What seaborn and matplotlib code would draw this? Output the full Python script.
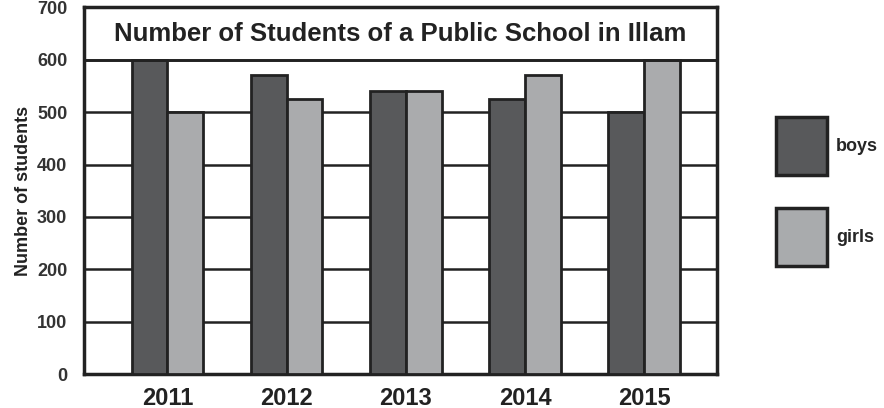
import pandas as pd
import seaborn as sns
import matplotlib.pyplot as plt
from matplotlib.patches import Patch

years = ["2011", "2012", "2013", "2014", "2015"]
boys = [600, 570, 540, 525, 500]
girls = [500, 525, 540, 570, 600]
groups = ["boys", "girls"]
y_ticks = [0, 100, 200, 300, 400, 500, 600, 700]
title = "Number of Students of a Public School in Illam"

df = pd.DataFrame({
    "year": years * 2,
    "students": boys + girls,
    "gender": ["boys"] * len(years) + ["girls"] * len(years),
})

sns.set_style("white")
plt.rcParams["font.family"] = ["Liberation Sans", "DejaVu Sans"]

colors = {"boys": "#58595b", "girls": "#a9abad"}
edge = "#222222"

fig = plt.figure(figsize=(8.84, 4.08), dpi=100)
ax = fig.add_axes([0.095, 0.083, 0.716, 0.899])

sns.barplot(data=df, x="year", y="students", hue="gender", palette=colors,
            width=0.6, gap=0, edgecolor=edge, linewidth=2, ax=ax,
            legend=False, zorder=3)

ax.set_ylim(0, 700)
ax.set_xlim(-0.7, 4.61)
ax.set_yticks(y_ticks)
ax.set_yticklabels([str(t) for t in y_ticks], fontweight="bold", fontsize=13, color="#333333")
ax.set_xticks(range(len(years)))
ax.set_xticklabels(years, fontweight="bold", fontsize=17, color="#222222")
ax.tick_params(axis="y", length=0, pad=12)
ax.tick_params(axis="x", length=0, pad=9)
ax.set_xlabel("")
ax.set_ylabel("Number of students", fontweight="bold", fontsize=13, color="#222222", labelpad=4)

ax.yaxis.grid(True, color=edge, linewidth=1.8)
ax.set_axisbelow(True)
for s in ax.spines.values():
    s.set_visible(True)
    s.set_color(edge)
    s.set_linewidth(2.5)

# title box sits inside the top band of the plot
ax.axhline(600, color=edge, linewidth=2, zorder=4)
x_mid = (ax.get_xlim()[0] + ax.get_xlim()[1]) / 2
ax.text(x_mid, 650, title, ha="center", va="center", fontsize=18.5,
        fontweight="bold", color="#222222", zorder=5)

handles = [Patch(facecolor=colors[g], edgecolor=edge, linewidth=2.5) for g in groups]
fig.legend(handles, groups, loc="upper left", bbox_to_anchor=(0.860, 0.752),
           frameon=False, handlelength=2.8, handleheight=4.57, labelspacing=1.8,
           handletextpad=0.5, prop={"weight": "bold", "size": 13})

fig.savefig("out.png", dpi=100)
